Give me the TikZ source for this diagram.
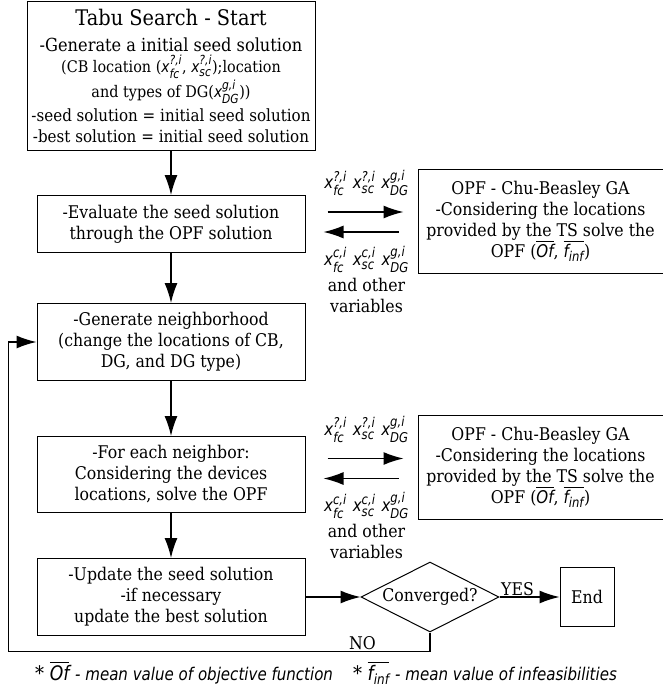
\documentclass[tikz,border=0pt]{standalone}
\usepackage{amsmath}
\usepackage{fontspec}
\setmainfont{DejaVu Serif}[FakeStretch=0.9]
\newfontfamily\varfont{DejaVu Sans}[FakeStretch=0.86]
\usepackage{tikz}
\usetikzlibrary{positioning,shapes.geometric,arrows.meta}
\DeclareMathSizes{17.5}{17.5}{13.5}{10}
\DeclareMathSizes{16}{16}{12.5}{9}
\DeclareMathSizes{20}{20}{14}{10}
\newcommand{\xv}[2]{$\text{\varfont\itshape x}^{\text{\varfont\itshape #1}}_{\text{\varfont\itshape #2}}$}
\newcommand{\ofbar}{$\overline{\text{\varfont\itshape Of}}$}
\newcommand{\finfbar}{$\overline{\text{\varfont\itshape f}_{\text{\varfont\itshape inf}}}$}

\begin{document}
\begin{tikzpicture}[
  x=1pt, y=1pt,
  box/.style={draw, line width=1pt, align=center, minimum width=268pt, minimum height=57pt, inner sep=1pt, font=\fontsize{17.5}{21}\selectfont},
  opf/.style={box, minimum width=245pt, minimum height=104pt},
  dec/.style={draw, diamond, aspect=2, line width=1pt, minimum width=138pt, minimum height=70pt, inner sep=0pt, font=\fontsize{17.5}{21}\selectfont},
  endbox/.style={draw, line width=1pt, minimum width=54pt, minimum height=59pt, inner sep=0pt, font=\fontsize{17.5}{21}\selectfont},
  arr/.style={-{Latex[length=20pt,width=13pt]}, line width=1.4pt},
  lbl/.style={inner sep=1pt, align=center, font=\fontsize{17.5}{21}\selectfont}
]
\useasboundingbox (0,0) rectangle (663,-691);
\node[box, minimum width=288pt, minimum height=149pt] (start) at (171,-76) {{\fontsize{21.5}{24}\selectfont Tabu Search - Start}\\[5pt]
  {\fontsize{18}{21}\selectfont -Generate a initial seed solution}\\
  {\fontsize{16}{21}\selectfont (CB location (\xv{?,i}{fc}, \xv{?,i}{sc});location}\\
  {\fontsize{16}{21}\selectfont and types of DG(\xv{g,i}{DG}))}\\[3pt]
  {\fontsize{16.8}{21}\selectfont -seed solution = initial seed solution}\\
  {\fontsize{16.8}{21}\selectfont -best solution = initial seed solution}};
\node[box, below=44pt of start] (eval) {-Evaluate the seed solution\\through the OPF solution};
\node[box, minimum height=77pt, below=50pt of eval] (gen) {-Generate neighborhood\\(change the locations of CB,\\DG, and DG type)};
\node[box, minimum height=76pt, below=55pt of gen] (nbr) {-For each neighbor:\\Considering the devices\\locations, solve the OPF};
\node[box, minimum height=77pt, below=45pt of nbr] (upd) {-Update the seed solution\\-if necessary\\update the best solution};
\node[opf, right=112pt of eval, yshift=3pt] (opfA) {OPF - Chu-Beasley GA\\-Considering the locations\\provided by the TS solve the\\OPF (\ofbar, \finfbar)};
\node[opf, right=112pt of nbr, yshift=7pt] (opfB) {OPF - Chu-Beasley GA\\-Considering the locations\\provided by the TS solve the\\OPF (\ofbar, \finfbar)};
\node[dec, right=55pt of upd] (conv) {Converged?};
\node[endbox, right=60pt of conv] (end) {End};
% variables sent to and returned by the OPF
\node[lbl] (varsA) at ([xshift=-51pt,yshift=38pt]opfA.west) {\xv{?,i}{fc}\hspace{6pt}\xv{?,i}{sc}\hspace{6pt}\xv{g,i}{DG}};
\node[lbl, anchor=north] (backA) at ([xshift=-51pt,yshift=-24pt]opfA.west) {\xv{c,i}{fc}\hspace{6pt}\xv{c,i}{sc}\hspace{6pt}\xv{g,i}{DG}\\[5pt]and other\\variables};
\node[lbl] (varsB) at ([xshift=-51pt,yshift=38pt]opfB.west) {\xv{?,i}{fc}\hspace{6pt}\xv{?,i}{sc}\hspace{6pt}\xv{g,i}{DG}};
\node[lbl, anchor=north] (backB) at ([xshift=-51pt,yshift=-24pt]opfB.west) {\xv{c,i}{fc}\hspace{6pt}\xv{c,i}{sc}\hspace{6pt}\xv{g,i}{DG}\\[5pt]and other\\variables};
\node (note) at (326,-673) {\fontsize{20}{22}\selectfont * \ofbar\ {\varfont\itshape\fontsize{17.5}{22}\selectfont - mean value of objective function}\quad * \finfbar\ {\varfont\itshape\fontsize{17.5}{22}\selectfont - mean value of infeasibilities}};
\draw[arr] (start) -- (eval);
\draw[arr] (eval) -- (gen);
\draw[arr] (gen) -- (nbr);
\draw[arr] (nbr) -- (upd);
\draw[arr] ([xshift=-90pt,yshift=9pt]opfA.west) -- ([xshift=-14pt,yshift=9pt]opfA.west);
\draw[arr] ([xshift=-19pt,yshift=-11pt]opfA.west) -- ([xshift=-94pt,yshift=-11pt]opfA.west);
\draw[arr] ([xshift=-90pt,yshift=9pt]opfB.west) -- ([xshift=-14pt,yshift=9pt]opfB.west);
\draw[arr] ([xshift=-19pt,yshift=-11pt]opfB.west) -- ([xshift=-94pt,yshift=-11pt]opfB.west);
\draw[arr] (upd) -- (conv);
\draw[arr] (conv) -- node[lbl, above, pos=0.3]{YES} (end);
\draw[arr] (conv.south) -- ++(0,-19) -| node[lbl, above, pos=0.08]{NO} ([xshift=-28pt]gen.west) -- (gen.west);
\end{tikzpicture}
\end{document}
